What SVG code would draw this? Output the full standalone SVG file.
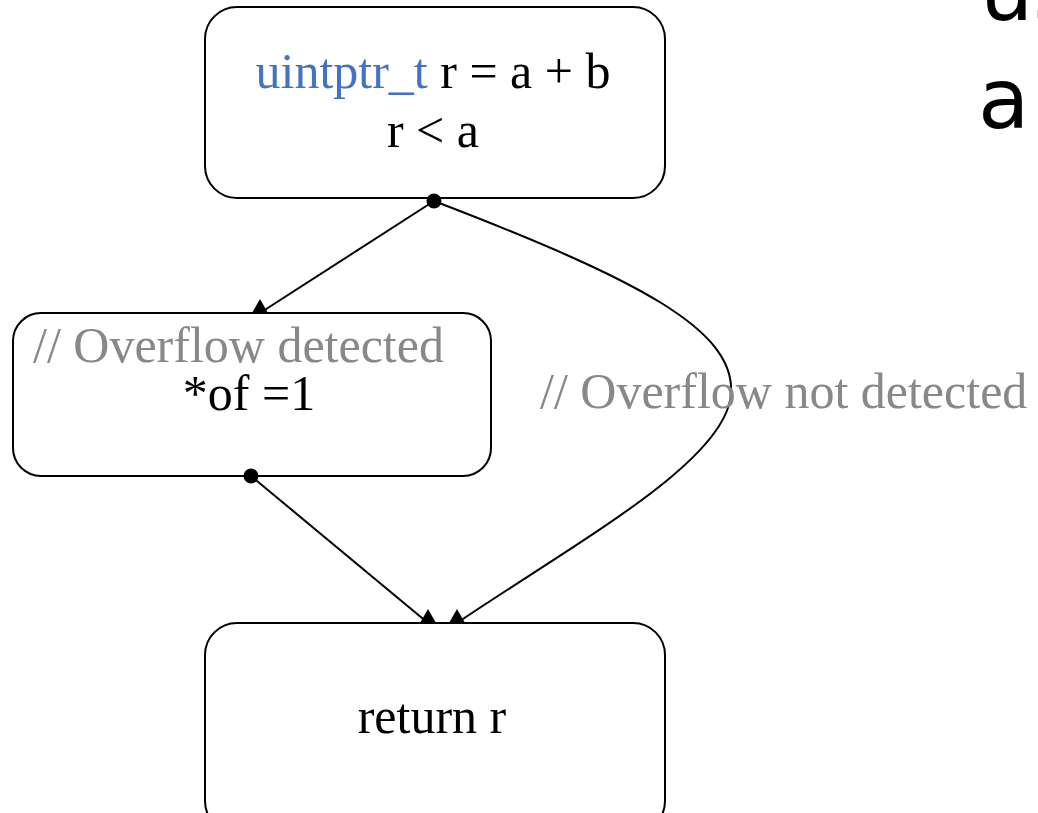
<svg xmlns="http://www.w3.org/2000/svg" width="1038" height="813" viewBox="0 0 1038 813">
<style>
.box{fill:#fff;stroke:#000;stroke-width:2}
.t{font-family:"Liberation Serif",serif;font-size:50px;fill:#000}
.c{fill:#888}
.k{fill:#4472c4}
.e{fill:none;stroke:#000;stroke-width:2}
.big{font-family:"DejaVu Sans","Liberation Sans",sans-serif;font-size:84px;fill:#000}
</style>
<defs>
<marker id="tri" markerUnits="userSpaceOnUse" markerWidth="18" markerHeight="16" refX="8" refY="14" orient="0" overflow="visible">
<path d="M0,14 L8,0 L16,14 Z" fill="#000"/>
</marker>
<marker id="dot" markerUnits="userSpaceOnUse" markerWidth="16" markerHeight="16" refX="8" refY="8" overflow="visible">
<circle cx="8" cy="8" r="7.5" fill="#000"/>
</marker>
</defs>
<g id="title">
<text class="big" x="980" y="20">us</text>
<text class="big" x="978" y="128">a</text>
</g>
<g id="n1">
<rect class="box" x="205" y="7" width="460" height="191" rx="32"/>
<text class="t" x="433" y="88" text-anchor="middle"><tspan class="k">uintptr_t</tspan> r = a + b</text>
<text class="t" x="433" y="147" text-anchor="middle">r &lt; a</text>
</g>
<g id="n2">
<rect class="box" x="13" y="313" width="478" height="163" rx="28"/>
<text class="t c" x="33" y="362">// Overflow detected</text>
<text class="t" x="249" y="410" text-anchor="middle">*of =1</text>
</g>
<g id="n3">
<rect class="box" x="205" y="623" width="460" height="210" rx="32"/>
<text class="t" x="432" y="733" text-anchor="middle">return r</text>
</g>
<g id="edges">
<path class="e" d="M434,201 L260,313" marker-start="url(#dot)" marker-end="url(#tri)"/>
<path class="e" d="M251,476 L428,623" marker-start="url(#dot)" marker-end="url(#tri)"/>
<path class="e" d="M434,201 C640,280 735,330 731,393 C728,460 580,540 457,623" marker-end="url(#tri)"/>
<text class="t c" x="540" y="408">// Overflow not detected</text>
</g>
</svg>
